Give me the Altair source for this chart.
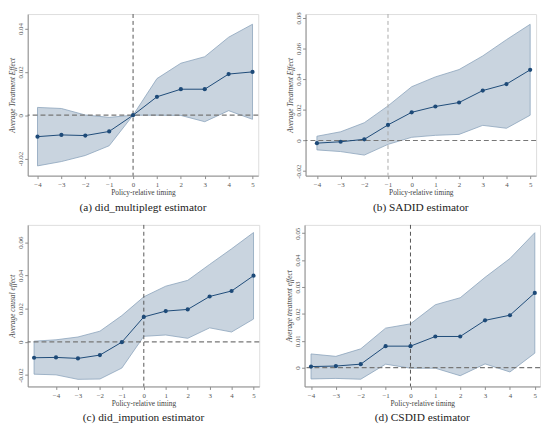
import altair as alt
import pandas as pd

# ---- data ----
x_a = [-4, -3, -2, -1, 0, 1, 2, 3, 4, 5]
est_a = [-0.0099, -0.0091, -0.0094, -0.0075, 0.0, 0.0085, 0.0120, 0.0120, 0.0190, 0.0200]
hi_a = [0.0036, 0.0031, 0.0001, -0.0010, 0.0, 0.0169, 0.0240, 0.0270, 0.0360, 0.0420]
lo_a = [-0.0234, -0.0214, -0.0186, -0.0141, 0.0, 0.0, -0.0001, -0.0030, 0.0021, -0.0019]

x_b = [-4, -3, -2, -1, 0, 1, 2, 3, 4, 5]
est_b = [-0.0017, -0.0008, 0.0008, 0.0102, 0.0184, 0.0222, 0.0248, 0.0326, 0.0368, 0.0461]
hi_b = [0.0028, 0.0057, 0.0116, 0.0226, 0.0351, 0.0415, 0.0463, 0.0552, 0.0658, 0.0758]
lo_b = [-0.0061, -0.0072, -0.0095, -0.0025, 0.0021, 0.0034, 0.0040, 0.0099, 0.0080, 0.0165]

x_c = [-5, -4, -3, -2, -1, 0, 1, 2, 3, 4, 5]
est_c = [-0.0096, -0.0094, -0.0100, -0.0080, -0.0002, 0.0150, 0.0185, 0.0195, 0.0273, 0.0306, 0.0398]
hi_c = [0.0004, 0.0012, 0.0029, 0.0064, 0.0158, 0.0271, 0.0335, 0.0370, 0.0466, 0.0560, 0.0658]
lo_c = [-0.0195, -0.0199, -0.0226, -0.0224, -0.0158, 0.0033, 0.0041, 0.0021, 0.0084, 0.0059, 0.0137]

x_d = [-4, -3, -2, -1, 0, 1, 2, 3, 4, 5]
est_d = [0.0004, 0.0006, 0.0013, 0.0080, 0.0080, 0.0116, 0.0116, 0.0176, 0.0195, 0.0278]
hi_d = [0.0051, 0.0042, 0.0070, 0.0147, 0.0163, 0.0234, 0.0260, 0.0336, 0.0406, 0.0502]
lo_d = [-0.0042, -0.0040, -0.0043, 0.0013, -0.0002, -0.0002, -0.0030, 0.0014, -0.0016, 0.0054]

xticks = [-4, -3, -2, -1, 0, 1, 2, 3, 4, 5]
yticks_a = [-0.02, 0, 0.02, 0.04]
yticks_b = [-0.02, 0, 0.02, 0.04, 0.06, 0.08]
yticks_c = [-0.02, 0, 0.02, 0.04, 0.06]
yticks_d = [0, 0.01, 0.02, 0.03, 0.04, 0.05]

FONT = "Liberation Serif"
FILL = "#c9d4df"
EDGE = "#8ba3bb"
NAVY = "#1d4a78"
FRAME = "#8c8c8c"


def panel(xs, est, lo, hi, xdom, ydom, yticks, vline, ytitle, caption, w, h, vcolor):
    df = pd.DataFrame({"t": xs, "est": est, "lo": lo, "hi": hi})
    xsc = alt.Scale(domain=xdom, nice=False, zero=False)
    ysc = alt.Scale(domain=ydom, nice=False, zero=False)
    xax = alt.Axis(values=xticks, title="Policy-relative timing", grid=False,
                   labelOverlap=False, labelFlush=False,
                   labelFont=FONT, labelFontSize=7, labelColor="#555",
                   titleFont=FONT, titleFontSize=7.5, titleFontWeight="normal",
                   titleColor="#444", tickSize=3, tickColor=FRAME, domainColor=FRAME,
                   labelPadding=2, titlePadding=1)
    yax = alt.Axis(values=yticks, title=ytitle, grid=False,
                   labelOverlap=False, labelFlush=False,
                   labelExpr="datum.value == 0 ? '0' : replace(format(datum.value, '.2f'), '\u2212', '-')",
                   labelAngle=270, labelAlign="center", labelBaseline="bottom",
                   labelFont=FONT, labelFontSize=7, labelColor="#555",
                   titleFont=FONT, titleFontSize=7.5, titleFontWeight="normal",
                   titleFontStyle="italic", titleColor="#444",
                   tickSize=3, tickColor=FRAME, domainColor=FRAME,
                   labelPadding=1, titlePadding=0)
    X = lambda f: alt.X(f, scale=xsc, axis=xax)
    Y = lambda f: alt.Y(f, scale=ysc, axis=yax)
    base = alt.Chart(df)
    band = base.mark_area(fill=FILL, stroke=EDGE, strokeWidth=0.8, opacity=1).encode(
        x=X("t:Q"), y=Y("lo:Q"), y2="hi:Q",
    )
    hl = alt.Chart(pd.DataFrame({"z": [0]})).mark_rule(
        color="#777", strokeDash=[5, 3], strokeWidth=1.2).encode(y=Y("z:Q"))
    vl = alt.Chart(pd.DataFrame({"v": [vline]})).mark_rule(
        color=vcolor, strokeDash=[4, 3], strokeWidth=1).encode(x=X("v:Q"))
    line = base.mark_line(color=NAVY, strokeWidth=1).encode(x=X("t:Q"), y=Y("est:Q"))
    pts = base.mark_circle(color=NAVY, size=18, opacity=1).encode(x=X("t:Q"), y=Y("est:Q"))
    return alt.layer(band, hl, vl, line, pts).properties(
        width=w, height=h,
        title=alt.TitleParams(caption, orient="bottom", font=FONT, fontSize=11.5,
                              fontWeight="normal", color="#222", offset=6, anchor="middle"),
    )


pa = panel(x_a, est_a, lo_a, hi_a, [-4.41, 5.24], [-0.0279, 0.0467], yticks_a, 0,
           "Average Treatment Effect", "(a) did_multiplegt estimator", 234, 164, "#555")
pb = panel(x_b, est_b, lo_b, hi_b, [-4.48, 5.25], [-0.0229, 0.0825], yticks_b, -1,
           "Average Treatment Effect", "(b) SADID estimator", 234, 164, "#aaa")
pc = panel(x_c, est_c, lo_c, hi_c, [-5.29, 5.26], [-0.0269, 0.0704], yticks_c, 0,
           "Average causal effect", "(c) did_impution estimator", 235, 164, "#555")
pd_ = panel(x_d, est_d, lo_d, hi_d, [-4.26, 5.21], [-0.0070, 0.0531], yticks_d, 0,
            "Average treatment effect", "(d) CSDID estimator", 239, 164, "#555")

chart = alt.vconcat(
    alt.hconcat(pa, pb, spacing=26),
    alt.hconcat(pc, pd_, spacing=24),
    spacing=10,
).properties(padding=0).configure_view(stroke=FRAME, strokeWidth=1).configure(background="white")

chart.save("out.html", embed_options={"renderer": "svg", "actions": False})
